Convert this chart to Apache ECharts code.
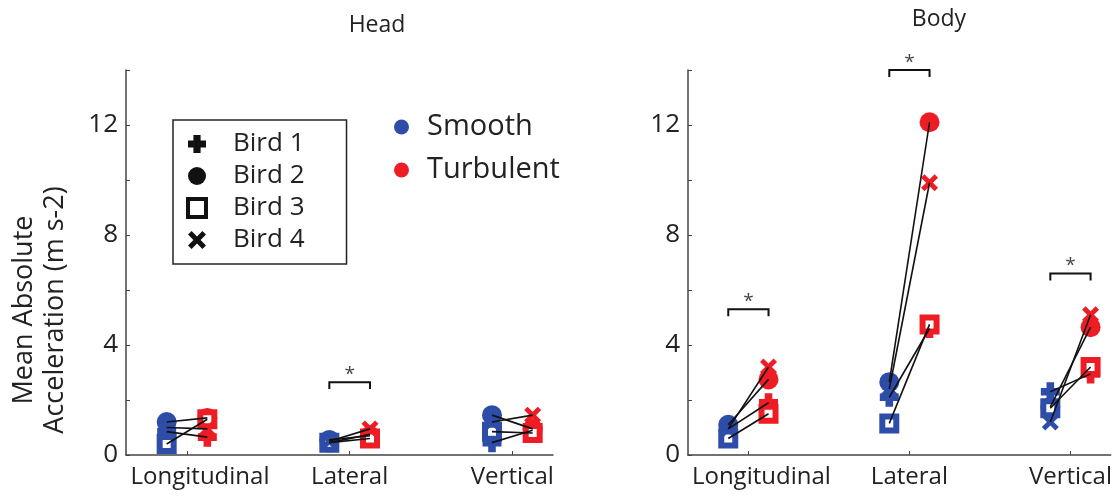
<!DOCTYPE html>
<html>
<head>
<meta charset="utf-8">
<script src="https://cdn.jsdelivr.net/npm/echarts@6/dist/echarts.min.js"></script>
<style>html,body{margin:0;padding:0;background:#fff}#c{width:1115px;height:497px}</style>
</head>
<body>
<div id="c"></div>
<script>
const categories = ['Longitudinal', 'Lateral', 'Vertical'];
const birds = ['Bird 1', 'Bird 2', 'Bird 3', 'Bird 4'];
const conditions = ['Smooth', 'Turbulent'];
const panelTitles = ['Head', 'Body'];
const yTickLabels = [0, 4, 8, 12];
// values per bird (rows) per category (columns)
const headSmooth = [[0.85, 0.45, 0.45], [1.2, 0.55, 1.45], [0.4, 0.45, 0.85], [1.0, 0.5, 1.2]];
const headTurb   = [[0.65, 0.75, 0.9], [1.35, 0.7, 0.95], [1.3, 0.6, 0.8], [0.95, 0.95, 1.45]];
const bodySmooth = [[0.95, 2.1, 2.3], [1.1, 2.65, 1.75], [0.6, 1.15, 1.7], [0.95, 2.4, 1.2]];
const bodyTurb   = [[1.9, 4.6, 2.95], [2.75, 12.1, 4.65], [1.5, 4.75, 3.2], [3.2, 9.9, 5.1]];
// significance brackets: category index and bracket top value
const headSigCats = [1];
const headSigTops = [2.65];
const bodySigCats = [0, 1, 2];
const bodySigTops = [5.3, 14.0, 6.6];

const BLUE = '#2D4DA8', RED = '#EE1D25', FONT = '"Open Sans", "Noto Sans", sans-serif';
const PLUS = 'path://M3,0H7V3H10V7H7V10H3V7H0V3H3Z';
const CROSS = 'path://M0,2L2,0L5,3L8,0L10,2L7,5L10,8L8,10L5,7L2,10L0,8L3,5Z';
const birdSymbols = [PLUS, 'circle', 'rect', CROSS];
const birdSizes = [19, 20, 14, 17];
const OFF = 0.125;

const panels = [
  {s: headSmooth, t: headTurb, sigC: headSigCats, sigT: headSigTops},
  {s: bodySmooth, t: bodyTurb, sigC: bodySigCats, sigT: bodySigTops}
];

function styleFor(b, col) {
  if (b === 2) return {color: '#fff', borderColor: col, borderWidth: 6, opacity: 1};
  return {color: col, borderWidth: 0, opacity: 1};
}

const series = [];
panels.forEach((p, pi) => {
  birds.forEach((name, b) => {
    const data = [];
    categories.forEach((c, ci) => {
      data.push({value: [ci + 1 - OFF, p.s[b][ci]], itemStyle: styleFor(b, BLUE)});
      data.push({value: [ci + 1 + OFF, p.t[b][ci]], itemStyle: styleFor(b, RED)});
    });
    series.push({
      type: 'scatter', name: name, xAxisIndex: pi, yAxisIndex: pi,
      symbol: birdSymbols[b], symbolSize: birdSizes[b], symbolKeepAspect: true,
      itemStyle: {opacity: 1}, data: data, z: 2, silent: true
    });
  });
  const lineData = [];
  birds.forEach((name, b) => {
    categories.forEach((c, ci) => {
      lineData.push({coords: [[ci + 1 - OFF, p.s[b][ci]], [ci + 1 + OFF, p.t[b][ci]]]});
    });
  });
  series.push({
    type: 'lines', coordinateSystem: 'cartesian2d', xAxisIndex: pi, yAxisIndex: pi,
    data: lineData, lineStyle: {color: '#111', width: 1.6, opacity: 1}, z: 5, silent: true, clip: false
  });
  const brData = p.sigC.map((ci, k) => ({coords: [
    [ci + 1 - OFF, p.sigT[k] - 0.25], [ci + 1 - OFF, p.sigT[k]],
    [ci + 1 + OFF, p.sigT[k]], [ci + 1 + OFF, p.sigT[k] - 0.25]]}));
  series.push({
    type: 'lines', coordinateSystem: 'cartesian2d', polyline: true, xAxisIndex: pi, yAxisIndex: pi,
    data: brData, lineStyle: {color: '#111', width: 2, opacity: 1}, z: 5, silent: true, clip: false
  });
  series.push({
    type: 'scatter', xAxisIndex: pi, yAxisIndex: pi, symbolSize: 0, silent: true, clip: false,
    data: p.sigC.map((ci, k) => [ci + 1, p.sigT[k]]),
    label: {show: true, formatter: '*', position: 'top', distance: -2, fontSize: 19, color: '#111', fontFamily: FONT}
  });
});
series.push({type: 'scatter', name: conditions[0], data: [], itemStyle: {color: BLUE, opacity: 1}});
series.push({type: 'scatter', name: conditions[1], data: [], itemStyle: {color: RED, opacity: 1}});

const grids = [{left: 126, top: 70, width: 427, height: 385}, {left: 688, top: 70, width: 425, height: 385}];
const xAxes = grids.map((g, i) => ({
  type: 'value', gridIndex: i, min: 0.625, max: 3.25,
  splitLine: {show: false},
  axisLine: {show: true, onZero: false, lineStyle: {color: '#444', width: 1.5}},
  axisTick: {show: true, inside: true, length: 4, customValues: [1, 2, 3], lineStyle: {color: '#444'}},
  axisLabel: {
    customValues: [1, 2, 3],
    formatter: v => { const k = Math.round(v) - 1; return k === 0 ? '{s|' + categories[k] + '}' : categories[k]; },
    rich: {s: {fontSize: 24, color: '#222', fontFamily: FONT, padding: [0, 0, 0, 26]}},
    fontSize: 24, color: '#222', fontFamily: FONT, margin: 10
  }
}));
const yAxes = grids.map((g, i) => ({
  type: 'value', gridIndex: i, min: 0, max: 14, interval: 2,
  splitLine: {show: false},
  axisLine: {show: true, lineStyle: {color: '#444', width: 1.5}},
  axisTick: {show: true, inside: true, length: 4, lineStyle: {color: '#444'}},
  axisLabel: {formatter: v => (yTickLabels.indexOf(v) >= 0 ? String(v) : ''), fontSize: 26, color: '#222', fontFamily: FONT, margin: 8}
}));

const option = {
  animation: false,
  grid: grids,
  xAxis: xAxes,
  yAxis: yAxes,
  legend: [
    {
      orient: 'vertical', left: 173, top: 120, selectedMode: false,
      borderColor: '#222', borderWidth: 1.5, padding: [11, 42, 11, 13],
      itemWidth: 18, itemHeight: 18, itemGap: 6,
      textStyle: {fontSize: 26, color: '#222', fontFamily: FONT, lineHeight: 26, padding: [0, 0, 0, 22]},
      data: [
        {name: birds[0], icon: PLUS, itemStyle: {color: '#111', borderWidth: 0}},
        {name: birds[1], icon: 'circle', itemStyle: {color: '#111', borderWidth: 0}},
        {name: birds[2], icon: 'rect', itemStyle: {color: '#fff', borderColor: '#111', borderWidth: 4}},
        {name: birds[3], icon: CROSS, itemStyle: {color: '#111', borderWidth: 0}}
      ]
    },
    {
      orient: 'vertical', left: 394, top: 112, selectedMode: false, padding: 0,
      itemWidth: 15, itemHeight: 15, itemGap: 13,
      textStyle: {fontSize: 29, color: '#222', fontFamily: FONT, lineHeight: 30, padding: [0, 0, 0, 13]},
      data: [{name: conditions[0], icon: 'circle'}, {name: conditions[1], icon: 'circle'}]
    }
  ],
  graphic: [
    {type: 'text', x: 377, y: 25, style: {text: panelTitles[0], font: '23px ' + FONT, fill: '#222', textAlign: 'center', textVerticalAlign: 'middle'}},
    {type: 'text', x: 939, y: 19, style: {text: panelTitles[1], font: '23px ' + FONT, fill: '#222', textAlign: 'center', textVerticalAlign: 'middle'}},
    {type: 'text', x: 40, y: 310, rotation: Math.PI / 2,
     style: {text: 'Mean Absolute\nAcceleration (m s-2)', font: '27px ' + FONT, fill: '#222', textAlign: 'center', textVerticalAlign: 'middle', lineHeight: 31}}
  ],
  series: series
};
const chart = echarts.init(document.getElementById('c'));
chart.setOption(option);
</script>
</body>
</html>
